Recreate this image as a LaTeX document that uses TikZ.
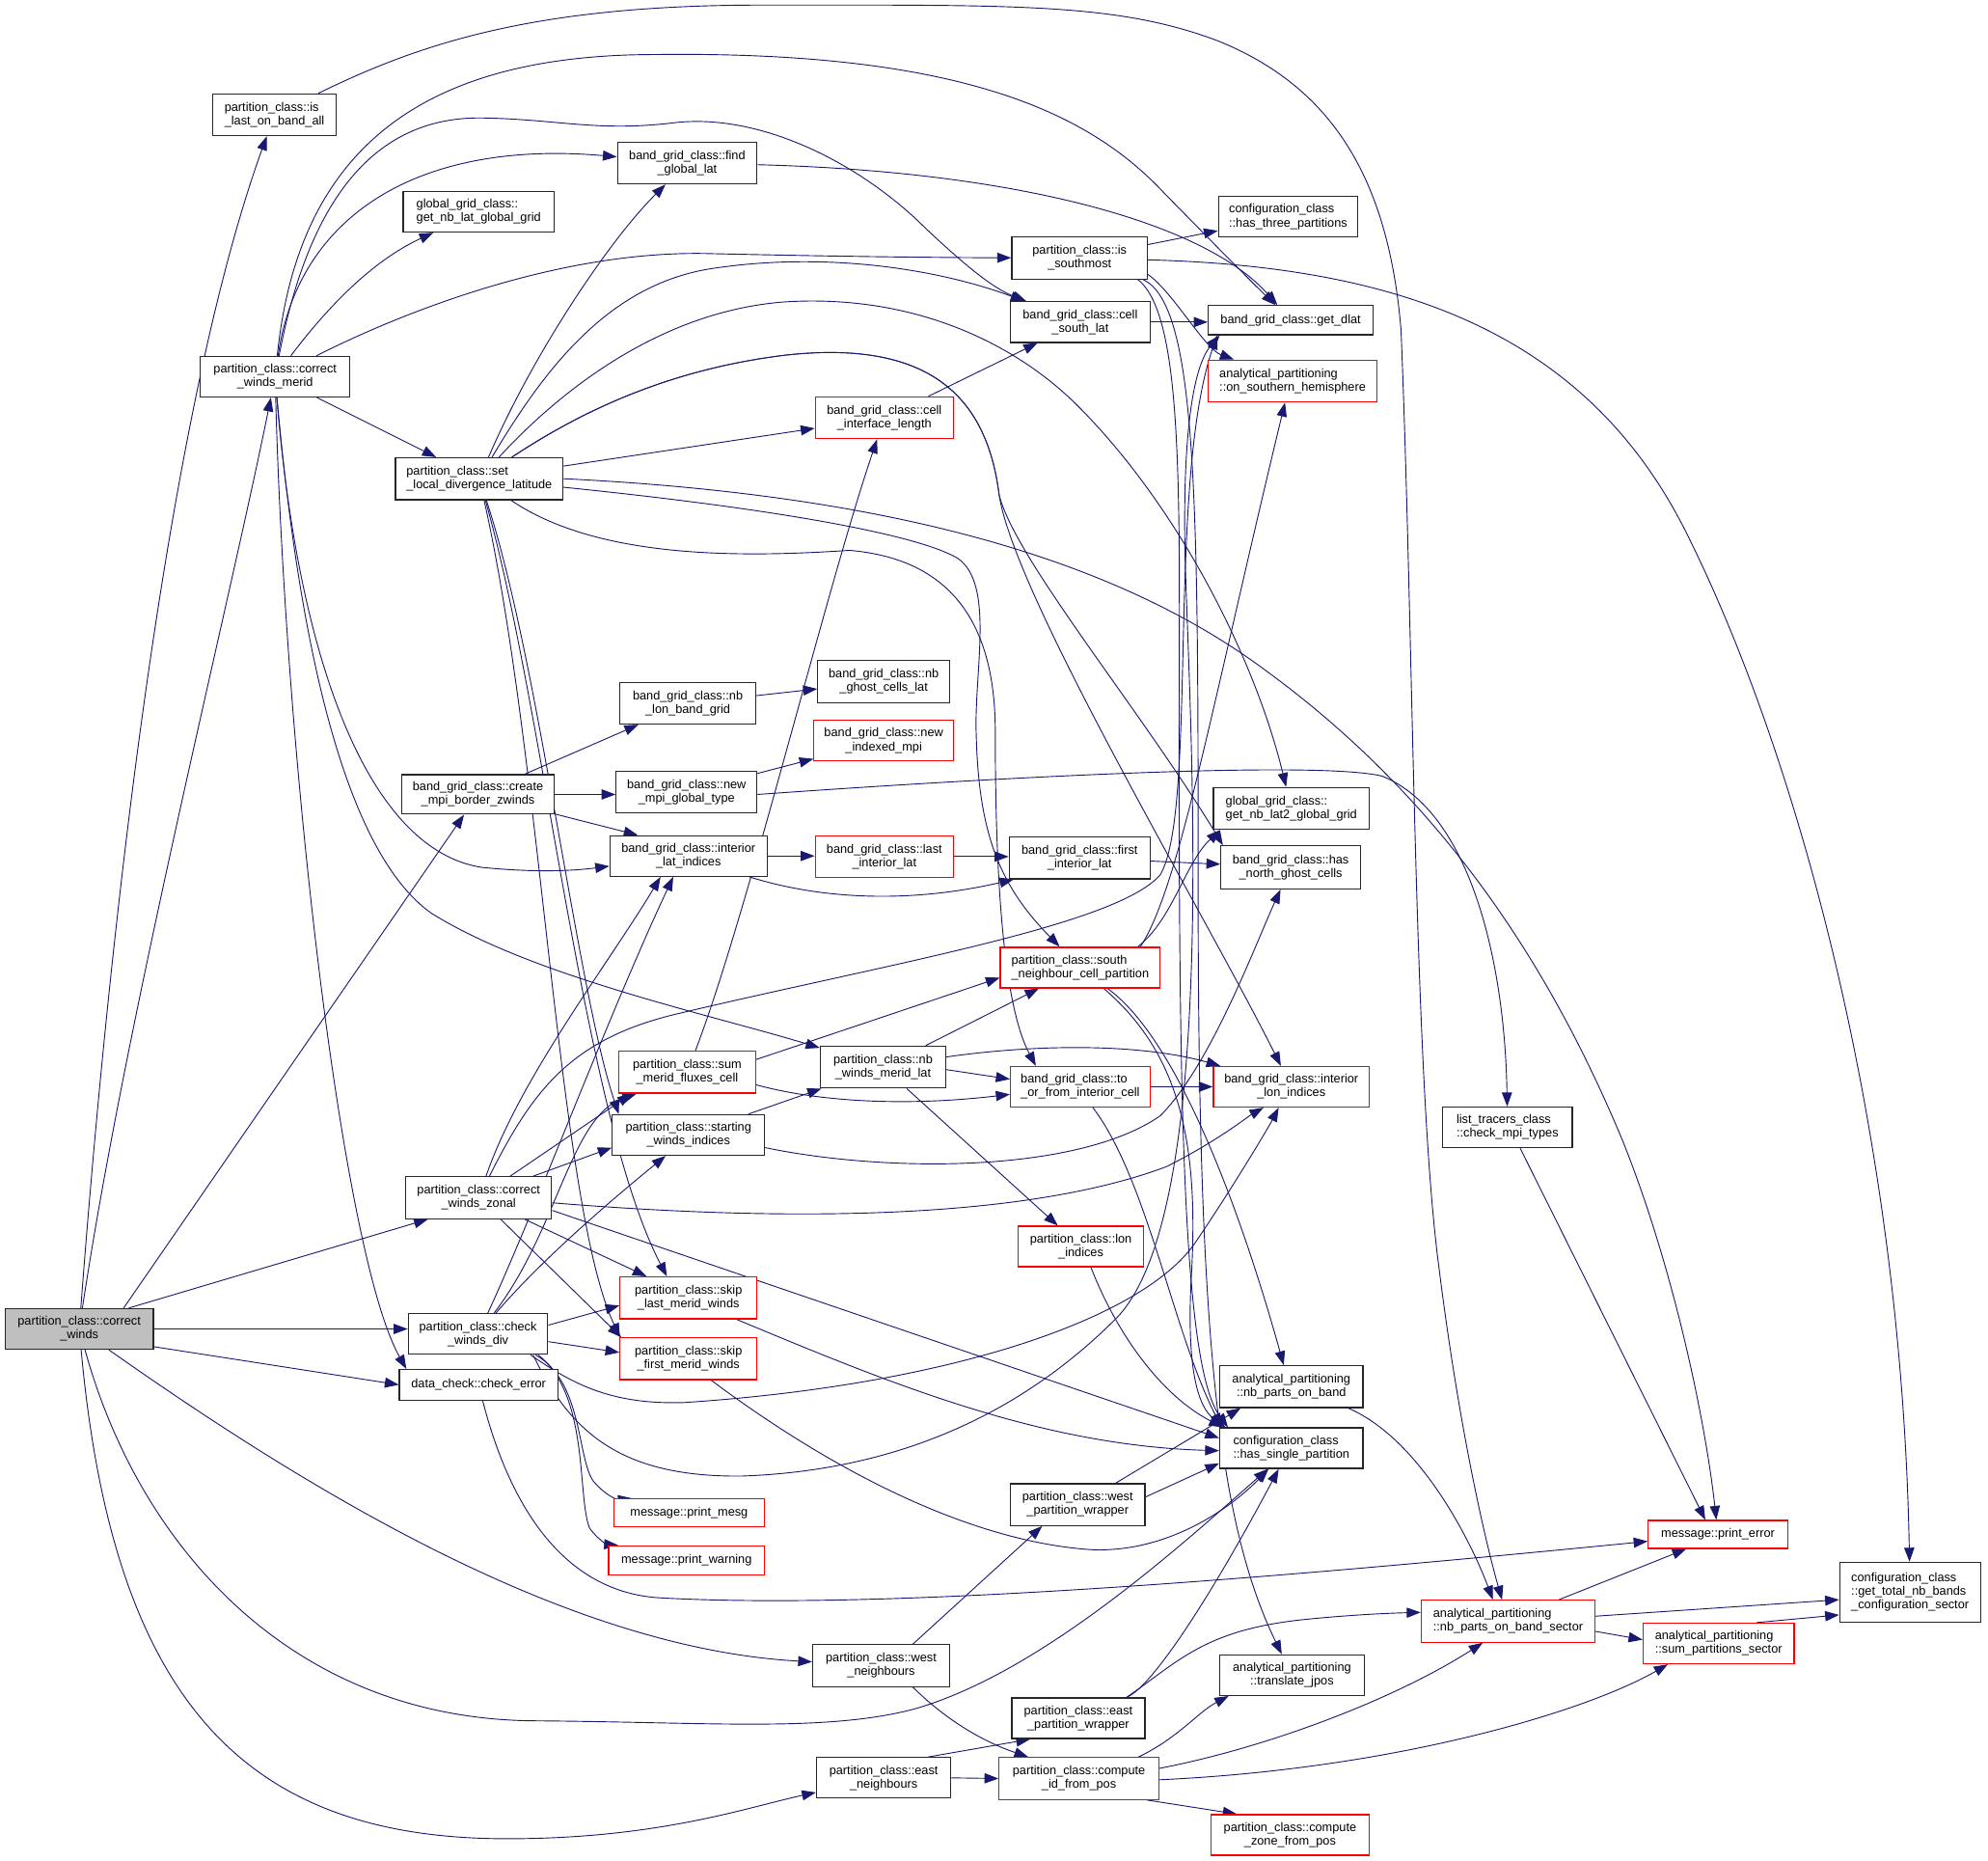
\documentclass[tikz,border=0pt]{standalone}
\usepackage{fontspec}
\setmainfont{Liberation Sans}
\usetikzlibrary{arrows.meta}
\definecolor{edgec}{HTML}{191970}
\pgfdeclarelayer{bg}
\pgfsetlayers{bg,main}
\begin{document}
\begin{tikzpicture}[x=1pt,y=-1pt,
 box/.style={draw=black!85, line width=0.95pt, fill=white, align=center, inner sep=0pt, font=\fontsize{9.7}{10.8}\selectfont},
 lbox/.style={box, align=left},
 rbox/.style={box, draw=red},
 rlbox/.style={box, draw=red, align=left},
 gbox/.style={box, fill=black!25},
 wh/.style 2 args={minimum width=#1pt, minimum height=#2pt},
 edge/.style={draw=edgec, line width=0.7pt, -{Triangle[length=11pt,width=8pt]}}]
\useasboundingbox (0,0) rectangle (1568,1467);

% nodes
\node[gbox, wh={117}{32}] (cw) at (62.5,1048) {partition\_class::correct\\\_winds};
\node[lbox, wh={97}{33}] (islast) at (216.5,90.5) {partition\_class::is\\\_last\_on\_band\_all};
\node[box, wh={118}{32}] (merid) at (217,297) {partition\_class::correct\\\_winds\_merid};
\node[box, wh={110}{33}] (findlat) at (542,128.5) {band\_grid\_class::find\\\_global\_lat};
\node[lbox, wh={119}{32}] (getnblat) at (377.5,167) {global\_grid\_class::\\get\_nb\_lat\_global\_grid};
\node[lbox, wh={132}{33}] (setlocal) at (378,377.5) {partition\_class::set\\\_local\_divergence\_latitude};
\node[lbox, wh={110}{32}] (three) at (1016,171) {configuration\_class\\::has\_three\_partitions};
\node[box, wh={107}{33}] (southmost) at (851.5,203.5) {partition\_class::is\\\_southmost};
\node[box, wh={110}{32}] (cellsouth) at (852,254) {band\_grid\_class::cell\\\_south\_lat};
\node[box, wh={130}{23}] (getdlat) at (1018,252.5) {band\_grid\_class::get\_dlat};
\node[rlbox, wh={133}{33}] (onsouth) at (1019.5,300.5) {analytical\_partitioning\\::on\_southern\_hemisphere};
\node[rbox, wh={109}{33}] (cellif) at (697.5,329.5) {band\_grid\_class::cell\\\_interface\_length};
\node[box, wh={107}{33}] (nblon) at (542.5,554.5) {band\_grid\_class::nb\\\_lon\_band\_grid};
\node[box, wh={104}{33}] (nbghost) at (697,537.5) {band\_grid\_class::nb\\\_ghost\_cells\_lat};
\node[rbox, wh={110}{32}] (newidx) at (697,584) {band\_grid\_class::new\\\_indexed\_mpi};
\node[box, wh={120}{31}] (create) at (377,626.5) {band\_grid\_class::create\\\_mpi\_border\_zwinds};
\node[box, wh={111}{33}] (newmpi) at (541.5,624.5) {band\_grid\_class::new\\\_mpi\_global\_type};
\node[lbox, wh={123}{33}] (nblat2) at (1018.5,637.5) {global\_grid\_class::\\get\_nb\_lat2\_global\_grid};
\node[box, wh={124}{32}] (intlat) at (543,675) {band\_grid\_class::interior\\\_lat\_indices};
\node[rbox, wh={109}{33}] (lastint) at (697.5,675.5) {band\_grid\_class::last\\\_interior\_lat};
\node[box, wh={111}{33}] (firstint) at (851.5,676.5) {band\_grid\_class::first\\\_interior\_lat};
\node[box, wh={110}{34}] (northghost) at (1018,684) {band\_grid\_class::has\\\_north\_ghost\_cells};
\node[rlbox, wh={126}{32}] (southnb) at (852,763) {partition\_class::south\\\_neighbour\_cell\_partition};
\node[rbox, wh={108}{33}] (summerid) at (542,845.5) {partition\_class::sum\\\_merid\_fluxes\_cell};
\node[box, wh={99}{33}] (nbwinds) at (696.5,841.5) {partition\_class::nb\\\_winds\_merid\_lat};
\node[rlbox, wh={110}{32}] (tofrom) at (852,857) {band\_grid\_class::to\\\_or\_from\_interior\_cell};
\node[rbox, wh={123}{32}] (intlon) at (1018.5,857) {band\_grid\_class::interior\\\_lon\_indices};
\node[lbox, wh={102}{32}] (checkmpi) at (1189,889) {list\_tracers\_class\\::check\_mpi\_types};
\node[box, wh={120}{32}] (starting) at (543,895) {partition\_class::starting\\\_winds\_indices};
\node[box, wh={115}{33}] (zonal) at (377.5,944.5) {partition\_class::correct\\\_winds\_zonal};
\node[rbox, wh={99}{32}] (lonidx) at (852.5,983) {partition\_class::lon\\\_indices};
\node[rbox, wh={108}{33}] (skiplast) at (543,1023.5) {partition\_class::skip\\\_last\_merid\_winds};
\node[box, wh={110}{32}] (checkdiv) at (377,1052) {partition\_class::check\\\_winds\_div};
\node[rbox, wh={108}{33}] (skipfirst) at (543,1071.5) {partition\_class::skip\\\_first\_merid\_winds};
\node[box, wh={125}{24}] (checkerr) at (377.5,1092) {data\_check::check\_error};
\node[box, wh={113}{33}] (nbparts) at (1018.5,1093.5) {analytical\_partitioning\\::nb\_parts\_on\_band};
\node[lbox, wh={113}{32}] (single) at (1018.5,1142) {configuration\_class\\::has\_single\_partition};
\node[box, wh={106}{33}] (westwrap) at (850,1186.5) {partition\_class::west\\\_partition\_wrapper};
\node[rbox, wh={119}{22}] (printmesg) at (543.5,1193) {message::print\_mesg};
\node[rbox, wh={123}{23}] (printwarn) at (541.5,1230.5) {message::print\_warning};
\node[rbox, wh={110}{22}] (printerr) at (1355,1210) {message::print\_error};
\node[rlbox, wh={137}{33}] (sector) at (1189.5,1278.5) {analytical\_partitioning\\::nb\_parts\_on\_band\_sector};
\node[lbox, wh={111}{47}] (total) at (1506.5,1255.5) {configuration\_class\\::get\_total\_nb\_bands\\\_configuration\_sector};
\node[rlbox, wh={119}{32}] (sumpart) at (1355.5,1296) {analytical\_partitioning\\::sum\_partitions\_sector};
\node[box, wh={108}{33}] (westnb) at (695,1313.5) {partition\_class::west\\\_neighbours};
\node[box, wh={114}{32}] (translate) at (1019,1321) {analytical\_partitioning\\::translate\_jpos};
\node[box, wh={105}{32}] (eastwrap) at (850.5,1355) {partition\_class::east\\\_partition\_wrapper};
\node[box, wh={106}{32}] (eastnb) at (697,1402) {partition\_class::east\\\_neighbours};
\node[rbox, wh={126}{33}] (computeid) at (851,1402.5) {partition\_class::compute\\\_id\_from\_pos};
\node[rbox, wh={125}{32}] (zone) at (1017.5,1447) {partition\_class::compute\\\_zone\_from\_pos};

\begin{pgfonlayer}{bg}
% correct_winds
\draw[edge] (cw) .. controls (85,750) and (130,330) .. (islast);
\draw[edge] (cw) .. controls (100,800) and (180,480) .. (merid);
\draw[edge] ([xshift=35pt]cw.north) -- (create);
\draw[edge] ([xshift=-20pt]cw.north east) -- ([xshift=-40pt]zonal.south);
\draw[edge] (cw.east) -- (cw.east -| checkdiv.west);
\draw[edge] ([yshift=-14pt]cw.east) -- (checkerr.west);
\draw[edge] (cw) .. controls (250,1180) and (450,1300) .. (westnb);
\draw[edge] (cw) .. controls (90,1350) and (200,1450) .. (400,1450) .. controls (520,1450) and (590,1425) .. (eastnb);
\draw[edge] (cw) .. controls (110,1220) and (230,1355) .. (420,1357) .. controls (560,1358) and (650,1366) .. (720,1348) .. controls (820,1320) and (930,1220) .. (single);
% correct_winds_merid
\draw[edge] (merid) .. controls (235,120) and (330,43) .. (517,43) .. controls (760,40) and (860,90) .. (918,152) .. controls (960,195) and (990,225) .. (getdlat);
\draw[edge] (merid) .. controls (245,150) and (300,92) .. (380,93) .. controls (440,94) and (470,104) .. (530,97) .. controls (600,88) and (680,130) .. (730,180) .. controls (765,213) and (785,228) .. (cellsouth);
\draw[edge] (merid) .. controls (235,170) and (330,110) .. (findlat);
\draw[edge] (merid) .. controls (260,240) and (295,205) .. (getnblat);
\draw[edge] (merid) .. controls (330,240) and (450,197) .. (560,200) .. controls (650,202) and (720,203) .. (southmost);
\draw[edge] (merid) -- (setlocal);
\draw[edge] (merid) .. controls (225,600) and (270,990) .. ([xshift=-57pt]checkerr.north);
\draw[edge] (merid) .. controls (235,520) and (290,670) .. (380,684) .. controls (420,688) and (450,687) .. (intlat);
\draw[edge] (merid) .. controls (235,500) and (270,670) .. (340,720) .. controls (420,770) and (560,800) .. (nbwinds);
% is_last_on_band_all
\draw[edge] (islast) .. controls (330,35) and (420,4) .. (600,4) .. controls (800,4) and (880,2) .. (960,32) .. controls (1050,68) and (1095,140) .. (1105,260) .. controls (1115,500) and (1115,850) .. (1135,1000) .. controls (1150,1120) and (1170,1210) .. (sector);
% find_global_lat
\draw[edge] (findlat) .. controls (800,135) and (950,175) .. (getdlat);
% set_local_divergence_latitude
\draw[edge] (setlocal) .. controls (420,280) and (480,190) .. (findlat);
\draw[edge] (setlocal) .. controls (430,290) and (480,225) .. (560,212) .. controls (650,198) and (740,212) .. (cellsouth);
\draw[edge] (setlocal) .. controls (440,310) and (520,245) .. (620,238) .. controls (720,232) and (800,270) .. (850,320) .. controls (930,400) and (990,520) .. (nblat2);
\draw[edge] (setlocal) .. controls (450,330) and (520,292) .. (620,280) .. controls (730,268) and (778,310) .. (788,390) .. controls (800,470) and (950,720) .. (intlon);
\draw[edge] (setlocal) .. controls (450,330) and (520,292) .. (620,280) .. controls (730,268) and (778,310) .. (788,390) .. controls (800,440) and (900,560) .. ([xshift=2pt]northghost.north west);
\draw[edge] (setlocal) -- (cellif);
\draw[edge] (setlocal.east) .. controls (700,390) and (880,440) .. (1000,530) .. controls (1150,640) and (1230,780) .. (1280,900) .. controls (1320,1000) and (1345,1120) .. (printerr);
\draw[edge] (setlocal) .. controls (600,400) and (720,420) .. (755,440) .. controls (785,460) and (768,530) .. (770,580) .. controls (772,660) and (790,700) .. (southnb);
\draw[edge] (setlocal) .. controls (470,440) and (580,440) .. (670,434) .. controls (740,440) and (785,480) .. (785,577) .. controls (785,680) and (790,790) .. ([xshift=-35pt]tofrom.north);
\draw[edge] (setlocal) .. controls (425,520) and (455,780) .. ([xshift=-55pt]starting.north);
\draw[edge] (setlocal) .. controls (430,560) and (460,880) .. ([xshift=-17pt]skiplast.north);
\draw[edge] (setlocal) .. controls (428,600) and (440,950) .. ([xshift=-54pt]skipfirst.north);
% is_southmost
\draw[edge] (southmost) -- (three);
\draw[edge] (southmost) .. controls (1100,210) and (1250,260) .. (1330,420) .. controls (1420,600) and (1500,900) .. (total);
\draw[edge] ([yshift=-13pt]southmost.east) .. controls (925,230) and (950,275) .. (onsouth);
\draw[edge] ([xshift=-8pt]southmost.south east) .. controls (935,250) and (930,400) .. (930,600) .. controls (930,900) and (935,1080) .. ([xshift=-50pt]single.north);
\draw[edge] ([xshift=-4pt]southmost.south east) .. controls (945,240) and (945,400) .. (945,700) .. controls (945,1050) and (960,1200) .. (translate);
% misc
\draw[edge] (cellsouth.east) -- (cellsouth.east -| getdlat.west);
\draw[edge] (cellif) -- (cellsouth);
\draw[edge] (summerid) .. controls (590,720) and (650,470) .. (cellif);
\draw[edge] (nblon) -- (nbghost);
\draw[edge] (create) -- (nblon);
\draw[edge] (create.east) -- (create.east -| newmpi.west);
\draw[edge] (create) -- ([xshift=-40pt]intlat.north);
\draw[edge] (newmpi) -- (newidx);
\draw[edge] ([yshift=-2pt]newmpi.east) .. controls (800,612) and (1040,600) .. (1090,612) .. controls (1160,640) and (1187,760) .. (checkmpi);
\draw[edge] (intlat.east) -- (intlat.east -| lastint.west);
\draw[edge] ([xshift=48pt]intlat.south) .. controls (650,710) and (720,712) .. ([xshift=4pt]firstint.south west);
\draw[edge] (lastint.east) -- (lastint.east -| firstint.west);
\draw[edge] (firstint) -- (northghost);
% south_neighbour_cell_partition
\draw[edge] ([xshift=-18pt]southnb.north east) .. controls (925,725) and (935,680) .. ([xshift=6pt]nblat2.south west);
\draw[edge] ([xshift=-16pt]southnb.north east) .. controls (930,700) and (955,560) .. ([xshift=-6pt]onsouth.south);
\draw[edge] ([xshift=-45pt]southnb.south east) .. controls (930,830) and (945,900) .. (940,1000) .. controls (935,1080) and (945,1110) .. ([xshift=-52pt]single.north);
\draw[edge] ([xshift=-42pt]southnb.south east) .. controls (930,820) and (980,960) .. ([xshift=-6pt]nbparts.north);
% nb_winds_merid_lat
\draw[edge] (nbwinds) -- (southnb);
\draw[edge] ([yshift=-2pt]nbwinds.east) -- ([yshift=6pt]tofrom.west);
\draw[edge] ([yshift=8pt]nbwinds.east) .. controls (820,823) and (900,823) .. ([xshift=6pt]intlon.north west);
\draw[edge] (nbwinds) -- (lonidx);
% sum_merid_fluxes_cell
\draw[edge] ([yshift=10pt]summerid.east) -- ([yshift=-8pt]southnb.west);
\draw[edge] ([yshift=-10pt]summerid.east) .. controls (650,870) and (720,872) .. ([yshift=-6pt]tofrom.west);
% to_or_from_interior_cell
\draw[edge] (tofrom.east) -- (intlon.west);
\draw[edge] ([xshift=10pt]tofrom.south) .. controls (905,930) and (925,1050) .. ([xshift=-55pt]single.north);
\draw[edge] ([xshift=8pt]lonidx.south) .. controls (880,1050) and (915,1100) .. ([xshift=-54pt]single.north);
% starting_winds_indices
\draw[edge] (starting) -- (nbwinds);
\draw[edge] ([yshift=-10pt]starting.east) .. controls (700,925) and (850,925) .. (915,880) .. controls (955,840) and (990,745) .. ([xshift=-8pt]northghost.south);
% correct_winds_zonal
\draw[edge] (zonal) .. controls (410,850) and (480,760) .. ([xshift=-22pt]intlat.south);
\draw[edge] (zonal) .. controls (420,860) and (450,820) .. (532,800) .. controls (700,760) and (880,730) .. (915,690) .. controls (945,640) and (920,380) .. ([xshift=-58pt]getdlat.south);
\draw[edge] (zonal) -- ([xshift=-44pt]summerid.south);
\draw[edge] ([xshift=-15pt]zonal.north east) -- ([yshift=-10pt]starting.west);
\draw[edge] (zonal) -- ([xshift=-33pt]skiplast.north);
\draw[edge] (zonal) -- ([xshift=-53pt]skipfirst.north);
\draw[edge] ([yshift=-4pt]zonal.east) .. controls (600,962) and (800,965) .. (920,920) .. controls (960,900) and (985,880) .. ([xshift=-22pt]intlon.south);
\draw[edge] ([yshift=-10pt]zonal.east) -- ([yshift=8pt]single.west);
% check_winds_div
\draw[edge] (checkdiv) .. controls (420,960) and (480,800) .. ([xshift=-12pt]intlat.south);
\draw[edge] (checkdiv) .. controls (440,970) and (450,880) .. ([xshift=-40pt]summerid.south);
\draw[edge] (checkdiv) .. controls (430,990) and (490,940) .. ([xshift=-18pt]starting.south);
\draw[edge] ([yshift=7pt]checkdiv.east) -- ([yshift=-6pt]skiplast.west);
\draw[edge] ([yshift=-6pt]checkdiv.east) -- ([yshift=5pt]skipfirst.west);
\draw[edge] ([xshift=-10pt]checkdiv.south east) .. controls (460,1090) and (455,1150) .. (468,1168) .. controls (478,1180) and (488,1183) .. ([xshift=15pt]printmesg.north west);
\draw[edge] ([xshift=-8pt]checkdiv.south east) .. controls (465,1100) and (455,1180) .. (465,1205) .. controls (472,1215) and (480,1218) .. ([xshift=8pt]printwarn.north west);
\draw[edge] ([xshift=-14pt]checkdiv.south east) .. controls (450,1090) and (480,1108) .. (540,1106) .. controls (750,1092) and (900,1040) .. (942,981) .. controls (970,940) and (1000,890) .. ([xshift=-10pt]intlon.south);
\draw[edge] ([xshift=-12pt]checkdiv.south east) .. controls (450,1130) and (490,1165) .. (585,1164) .. controls (700,1160) and (800,1120) .. (880,1040) .. controls (960,960) and (940,600) .. (935,450) .. controls (932,350) and (940,290) .. ([xshift=-56pt]getdlat.south);
% check_error
\draw[edge] (checkerr) .. controls (400,1180) and (440,1255) .. (520,1260) .. controls (700,1270) and (1000,1245) .. (printerr);
% skip
\draw[edge] ([xshift=38pt]skiplast.south) .. controls (700,1090) and (820,1140) .. ([yshift=-2pt]single.west);
\draw[edge] ([xshift=18pt]skipfirst.south) .. controls (650,1155) and (760,1215) .. (860,1222) .. controls (920,1225) and (970,1190) .. ([xshift=-18pt]single.south);
% wrappers and neighbours
\draw[edge] ([xshift=30pt]westwrap.north) -- ([xshift=-40pt]nbparts.south);
\draw[edge] ([yshift=6pt]westwrap.east) -- ([yshift=-12pt]single.west);
\draw[edge] ([xshift=25pt]westnb.north) -- ([xshift=-28pt]westwrap.south);
\draw[edge] ([xshift=25pt]westnb.south) .. controls (750,1360) and (780,1375) .. ([xshift=-40pt]computeid.north);
\draw[edge] ([xshift=35pt]eastnb.north) -- ([xshift=-38pt]eastwrap.south);
\draw[edge] (eastnb.east) -- (computeid.west);
\draw[edge] ([xshift=38pt]eastwrap.north) .. controls (910,1330) and (960,1250) .. ([xshift=-10pt]single.south);
\draw[edge] ([xshift=38pt]eastwrap.north) .. controls (930,1310) and (950,1285) .. (1030,1277) .. controls (1070,1273) and (1100,1272) .. ([yshift=7pt]sector.west);
% compute_id_from_pos
\draw[edge] ([xshift=47pt]computeid.north) .. controls (930,1370) and (945,1350) .. ([xshift=-50pt]translate.south);
\draw[edge] ([yshift=8pt]computeid.east) .. controls (1000,1378) and (1100,1340) .. ([xshift=-20pt]sector.south);
\draw[edge] ([yshift=-1pt]computeid.east) .. controls (1100,1395) and (1250,1350) .. ([xshift=-40pt]sumpart.south);
\draw[edge] ([xshift=-10pt]computeid.south east) -- ([xshift=-42pt]zone.north);
% analytical partitioning
\draw[edge] ([xshift=45pt]nbparts.south) .. controls (1120,1135) and (1160,1215) .. ([xshift=-12pt]sector.north);
\draw[edge] ([xshift=40pt]sector.north) -- ([xshift=-25pt]printerr.south);
\draw[edge] ([yshift=4pt]sector.east) -- ([yshift=-6pt]total.west);
\draw[edge] ([yshift=-8pt]sector.east) -- ([yshift=3pt]sumpart.west);
\draw[edge] ([xshift=30pt]sumpart.north) -- ([yshift=-18pt]total.west);
\draw[edge] ([xshift=10pt]checkmpi.south) -- ([xshift=-10pt]printerr.north);
\end{pgfonlayer}
\end{tikzpicture}
\end{document}
